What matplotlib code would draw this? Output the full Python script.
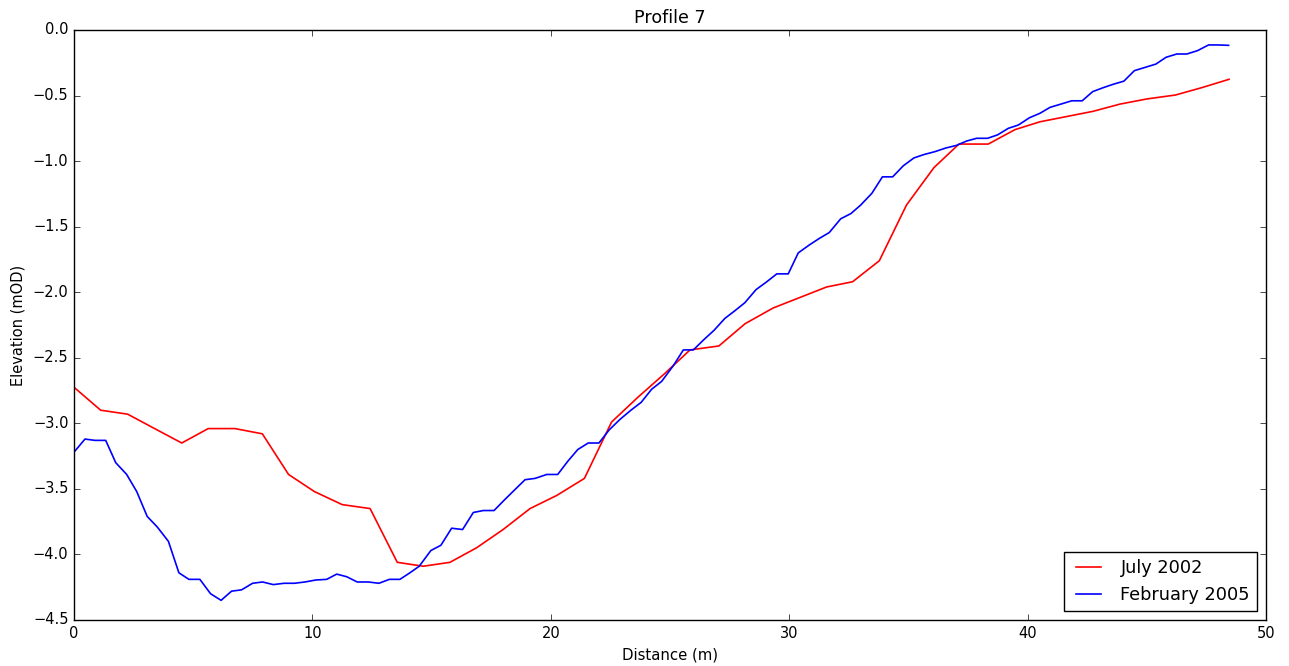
import matplotlib
matplotlib.use("Agg")
import matplotlib.pyplot as plt

plt.style.use("classic")

# July 2002 survey
x_2002 = [0.0, 1.12, 2.25, 3.38, 4.52, 5.63, 6.75, 7.9, 9.0, 10.08, 11.25, 12.42,
          13.56, 14.65, 15.77, 16.88, 18.0, 19.13, 20.25, 21.41, 22.55, 23.66,
          24.78, 25.84, 27.05, 28.15, 29.33, 30.45, 31.57, 32.66, 33.78, 34.92,
          36.07, 37.12, 38.35, 39.47, 40.52, 41.64, 42.75, 43.88, 45.0, 46.2,
          47.3, 48.45]
y_2002 = [-2.725, -2.90, -2.93, -3.04, -3.15, -3.04, -3.04, -3.08, -3.39, -3.52,
          -3.62, -3.65, -4.06, -4.09, -4.06, -3.95, -3.81, -3.65, -3.55, -3.42,
          -2.99, -2.80, -2.62, -2.44, -2.41, -2.24, -2.12, -2.04, -1.96, -1.92,
          -1.76, -1.335, -1.05, -0.87, -0.87, -0.76, -0.70, -0.66, -0.62, -0.565,
          -0.526, -0.496, -0.44, -0.376]

# February 2005 survey
x_2005 = [0.0, 0.46, 0.88, 1.33, 1.75, 2.21, 2.63, 3.07, 3.49, 3.96, 4.40, 4.82,
          5.28, 5.73, 6.17, 6.61, 7.03, 7.49, 7.91, 8.36, 8.81, 9.24, 9.69, 10.14,
          10.6, 11.02, 11.44, 11.88, 12.35, 12.79, 13.23, 13.67, 14.09, 14.48,
          14.97, 15.39, 15.84, 16.30, 16.75, 17.17, 17.62, 18.05, 18.47, 18.92,
          19.34, 19.83, 20.29, 20.71, 21.13, 21.57, 22.02, 22.45, 22.9, 23.36,
          23.79, 24.23, 24.65, 25.14, 25.56, 25.98, 26.43, 26.85, 27.3, 27.73,
          28.14, 28.61, 29.06, 29.48, 29.96, 30.38, 30.84, 31.26, 31.68, 32.16,
          32.59, 33.0, 33.47, 33.91, 34.34, 34.79, 35.23, 35.65, 36.11, 36.57,
          37.02, 37.44, 37.86, 38.32, 38.74, 39.19, 39.61, 40.07, 40.52, 40.94,
          41.4, 41.85, 42.29, 42.73, 43.17, 43.59, 44.04, 44.48, 44.93, 45.38,
          45.81, 46.26, 46.68, 47.12, 47.59, 48.0, 48.43]
y_2005 = [-3.22, -3.12, -3.13, -3.13, -3.30, -3.39, -3.52, -3.71, -3.79, -3.90,
          -4.14, -4.19, -4.19, -4.30, -4.35, -4.28, -4.27, -4.22, -4.21, -4.23,
          -4.22, -4.22, -4.21, -4.195, -4.19, -4.15, -4.17, -4.21, -4.21, -4.22,
          -4.19, -4.19, -4.14, -4.09, -3.97, -3.93, -3.80, -3.81, -3.68, -3.665,
          -3.665, -3.585, -3.51, -3.43, -3.42, -3.39, -3.39, -3.29, -3.20, -3.15,
          -3.15, -3.05, -2.97, -2.90, -2.84, -2.74, -2.68, -2.56, -2.44, -2.44,
          -2.36, -2.29, -2.20, -2.14, -2.08, -1.98, -1.92, -1.86, -1.86, -1.70,
          -1.64, -1.59, -1.545, -1.44, -1.40, -1.335, -1.245, -1.12, -1.12,
          -1.035, -0.976, -0.95, -0.928, -0.90, -0.88, -0.847, -0.826, -0.826,
          -0.80, -0.75, -0.725, -0.67, -0.635, -0.59, -0.565, -0.54, -0.54,
          -0.47, -0.44, -0.414, -0.39, -0.31, -0.285, -0.26, -0.208, -0.183,
          -0.183, -0.158, -0.114, -0.114, -0.117]

fig = plt.figure(figsize=(12.89, 6.66), dpi=100, facecolor="white")
ax = fig.add_axes([74 / 1289, 1 - 620 / 666, (1266 - 74) / 1289, (620 - 30) / 666])
ax.plot(x_2002, y_2002, color="r", lw=1.2, label="July 2002")
ax.plot(x_2005, y_2005, color="b", lw=1.2, label="February 2005")
ax.set_xlim(0, 50)
ax.set_ylim(-4.5, 0.0)
ax.set_title("Profile 7", fontsize=12.6)
ax.set_xlabel("Distance (m)", fontsize=10.7)
ax.set_ylabel("Elevation (mOD)", fontsize=10.5)
ax.tick_params(labelsize=10.5)
leg = ax.legend(loc="lower right", fontsize=12.8, fancybox=False)
leg.get_frame().set_linewidth(1.0)
fig.savefig("out.png", dpi=100, facecolor="white")
